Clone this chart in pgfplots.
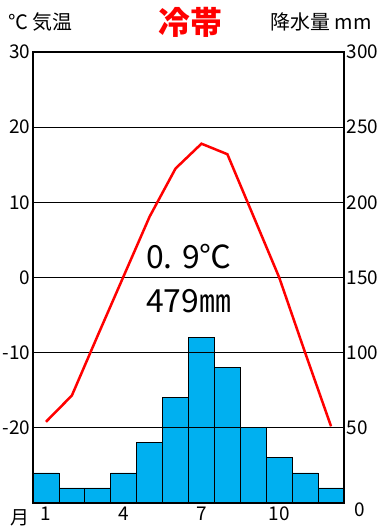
\documentclass[border=0pt]{standalone}
\usepackage{fontspec}
\setmainfont{Noto Sans CJK JP}
\usepackage{pgfplots}
\pgfplotsset{compat=1.18}
\definecolor{barblue}{HTML}{00B0F0}
\begin{document}
\begin{tikzpicture}[x=1bp,y=1bp]
\useasboundingbox (-33,-27) rectangle (352,503);
% precipitation
\begin{axis}[
  at={(0,0)}, anchor=south west,
  scale only axis, width=311bp, height=451bp,
  xmin=0.5, xmax=12.5, ymin=0, ymax=300,
  axis x line=none,
  axis y line*=right,
  axis line style={line width=2.5bp},
  ytick={50,100,150,200,250,300},
  yticklabels={50,100,150,200,250,300},
  major tick length=0pt,
  yticklabel style={font=\fontsize{19}{19}\selectfont, xshift=-1bp},
  /pgf/number format/assume math mode=true,
]
\addplot[ybar, bar width=1, fill=barblue, draw=black, line width=0.8bp] coordinates {
(1,20) (2,10) (3,10) (4,20) (5,40) (6,70) (7,110) (8,90) (9,50) (10,30) (11,20) (12,10)
};
\end{axis}
% temperature
\begin{axis}[
  at={(0,0)}, anchor=south west,
  scale only axis, width=311bp, height=451bp,
  xmin=0.5, xmax=12.5, ymin=-30, ymax=30,
  axis line style={line width=2.5bp},
  ytick={-20,-10,0,10,20,30},
  yticklabels={-20,-10,0,10,20,30},
  xtick={1,4,7,10},
  xticklabels={1,4,7,10},
  ytick pos=left, xtick pos=bottom,
  major tick length=0pt,
  ymajorgrids,
  major grid style={black, line width=0.8bp},
  yticklabel style={font=\fontsize{19}{19}\selectfont, xshift=1bp},
  xticklabel style={font=\fontsize{19}{19}\selectfont},
  /pgf/number format/assume math mode=true,
  clip=false,
]
\addplot[red, line width=2.5bp] coordinates {
(1,-19.2) (2,-15.7) (3,-7.7) (4,0.2) (5,8.1) (6,14.5) (7,17.8) (8,16.4) (9,8.2) (10,0) (11,-10) (12,-19.8)
};
\node[anchor=west, font=\fontsize{32}{32}\selectfont, inner sep=0pt] at (axis cs:4.86,2.8) {0. 9℃};
\node[anchor=west, font=\fontsize{32}{32}\selectfont, inner sep=0pt] at (axis cs:4.86,-3.2) {479㎜};
\end{axis}
\node[anchor=west, font=\fontsize{20}{20}\selectfont, inner sep=0pt] at (-25,481) {℃ 気温};
\node[font=\fontsize{32}{32}\selectfont\bfseries, text=red, inner sep=0pt] at (157,481) {冷帯};
\node[anchor=east, font=\fontsize{20}{20}\selectfont, inner sep=0pt] at (339,481) {降水量 mm};
\node[font=\fontsize{19}{19}\selectfont, inner sep=0pt] at (-13,-15) {月};
\node[font=\fontsize{19}{19}\selectfont, inner sep=0pt] at (327,-7) {0};
\end{tikzpicture}
\end{document}
